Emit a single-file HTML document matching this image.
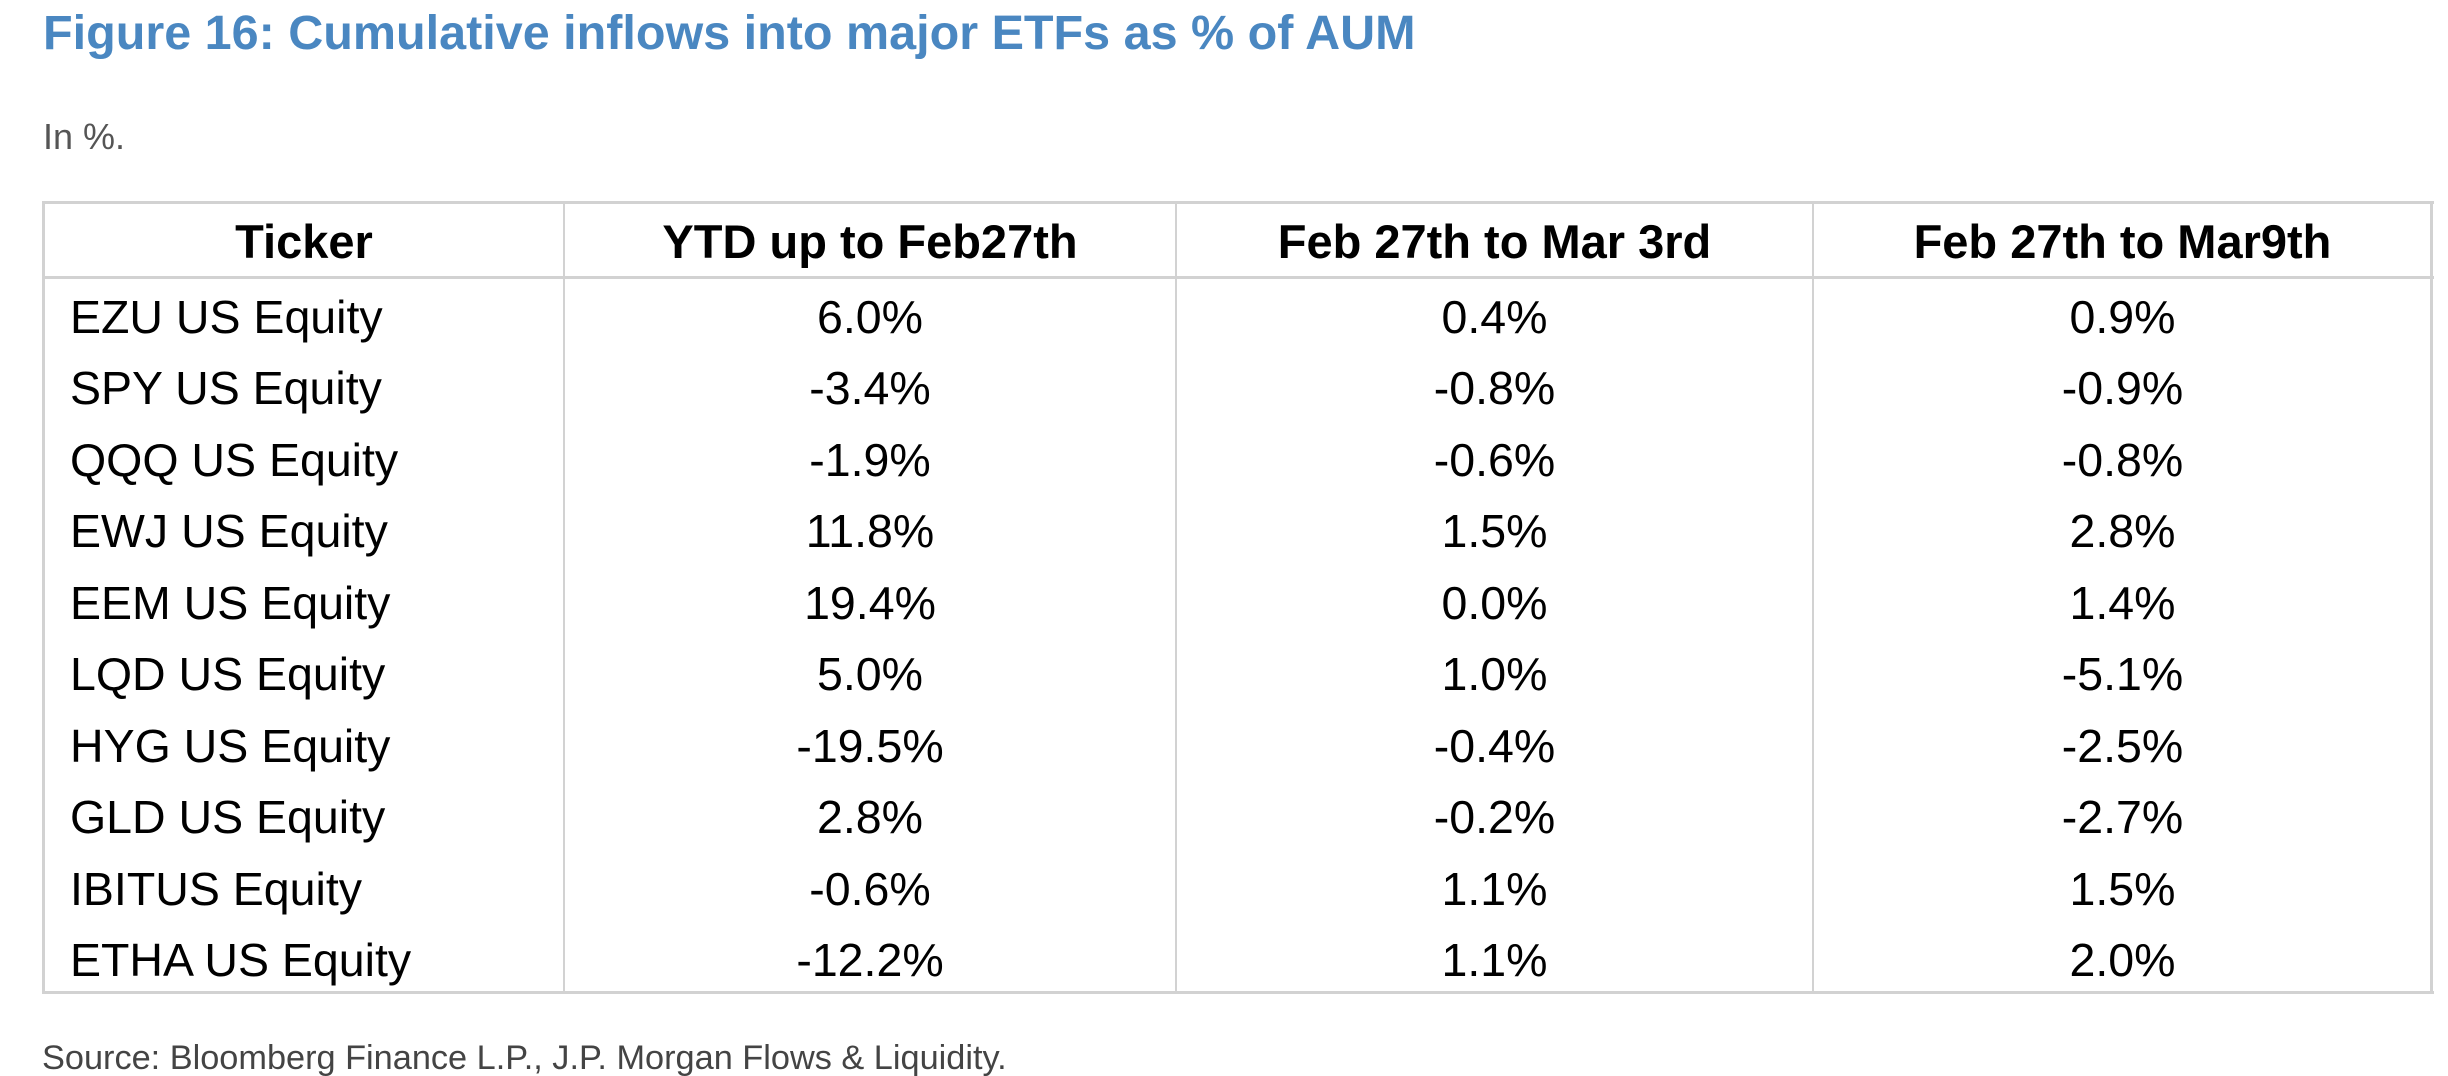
<!DOCTYPE html>
<html><head><meta charset="utf-8"><style>
html,body{margin:0;padding:0;background:#fff;width:2448px;height:1076px;overflow:hidden;position:relative;font-family:"Liberation Sans",Arial,sans-serif}
.a{position:absolute;white-space:nowrap}
.h{position:absolute;background:#d2d2d2}
.c{position:absolute;display:flex;align-items:center;justify-content:center;white-space:nowrap;color:#000}
.l{justify-content:flex-start}
</style></head><body>
<div class="a" style="left:43px;top:5px;font-size:48.5px;font-weight:bold;color:#4a87c1;line-height:56px">Figure 16: Cumulative inflows into major ETFs as % of AUM</div>
<div class="a" style="left:43px;top:116px;font-size:36px;color:#555;line-height:42px">In %.</div>
<div class="a" style="left:42px;top:1038px;font-size:34.3px;color:#444;line-height:40px">Source: Bloomberg Finance L.P., J.P. Morgan Flows &amp; Liquidity.</div>
<div class="h" style="left:42px;top:201px;width:2392px;height:3px"></div>
<div class="h" style="left:42px;top:276px;width:2392px;height:3px"></div>
<div class="h" style="left:42px;top:991px;width:2392px;height:3px"></div>
<div class="h" style="left:42px;top:201px;width:3px;height:793px"></div>
<div class="h" style="left:563px;top:201px;width:2px;height:793px"></div>
<div class="h" style="left:1175px;top:201px;width:2px;height:793px"></div>
<div class="h" style="left:1812px;top:201px;width:2px;height:793px"></div>
<div class="h" style="left:2430px;top:201px;width:3px;height:793px"></div>
<div id="t"></div>
<script>
(function(){
var hd=["Ticker","YTD up to Feb27th","Feb 27th to Mar 3rd","Feb 27th to Mar9th"];
var rows=[["EZU US Equity","6.0%","0.4%","0.9%"],["SPY US Equity","-3.4%","-0.8%","-0.9%"],["QQQ US Equity","-1.9%","-0.6%","-0.8%"],["EWJ US Equity","11.8%","1.5%","2.8%"],["EEM US Equity","19.4%","0.0%","1.4%"],["LQD US Equity","5.0%","1.0%","-5.1%"],["HYG US Equity","-19.5%","-0.4%","-2.5%"],["GLD US Equity","2.8%","-0.2%","-2.7%"],["IBITUS Equity","-0.6%","1.1%","1.5%"],["ETHA US Equity","-12.2%","1.1%","2.0%"]];
var cx=[[44,564],[564,1176],[1176,1813],[1813,2432]];
var h="";
for(var j=0;j<4;j++){h+='<div class="c" style="left:'+cx[j][0]+'px;width:'+(cx[j][1]-cx[j][0])+'px;top:204px;height:75px;font-size:47px;font-weight:bold">'+hd[j]+'</div>';}
for(var i=0;i<10;i++){var yy=281+71.5*i;for(var k=0;k<4;k++){
 var st=k==0?'left:70px;width:480px;':'left:'+cx[k][0]+'px;width:'+(cx[k][1]-cx[k][0])+'px;';
 h+='<div class="c'+(k==0?' l':'')+'" style="'+st+'top:'+yy+'px;height:71.5px;font-size:46.5px">'+rows[i][k]+'</div>';}}
document.getElementById("t").innerHTML=h;
})();
</script>
</body></html>
